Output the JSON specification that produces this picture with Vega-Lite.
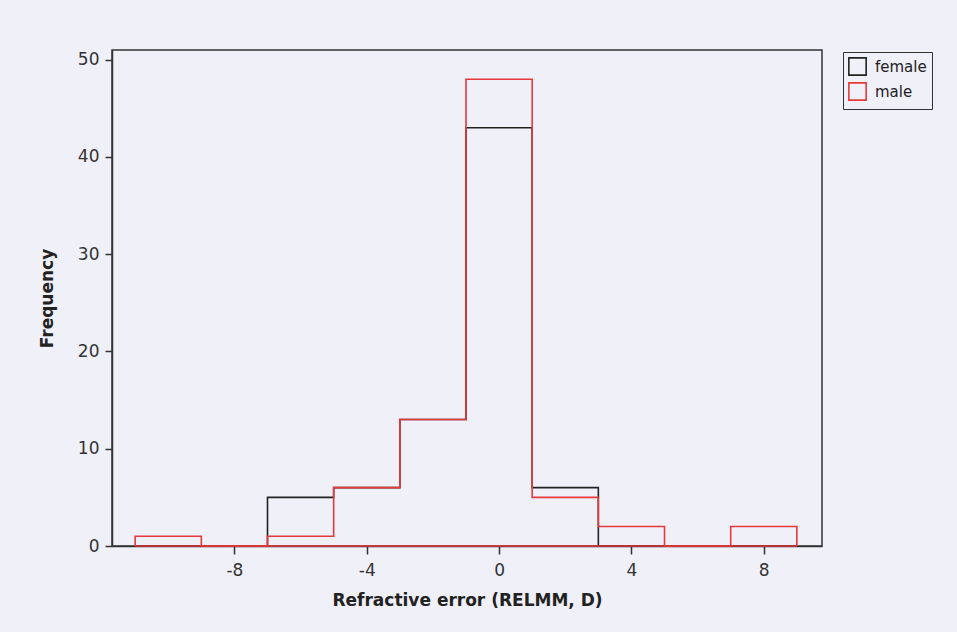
{
  "$schema": "https://vega.github.io/schema/vega-lite/v6.json",
  "autosize": {"type": "none"},
  "width": 710,
  "height": 496,
  "padding": {"left": 112, "top": 50, "right": 135, "bottom": 86},
  "background": "#f0f0f9",
  "config": {
    "font": "DejaVu Sans",
    "view": {"stroke": "#333333", "strokeWidth": 1.5},
    "axis": {
      "grid": false,
      "domainColor": "#333333",
      "domainWidth": 1.5,
      "tickColor": "#333333",
      "tickWidth": 1.5,
      "labelColor": "#333333",
      "labelFont": "DejaVu Sans",
      "labelFontSize": 17,
      "titleColor": "#222222",
      "titleFont": "DejaVu Sans",
      "titleFontSize": 17,
      "titleFontWeight": "bold"
    }
  },
  "data": {
    "values": [
      {"sex": "female", "x": -11, "count": 0, "i": 0},
      {"sex": "female", "x": -9, "count": 0, "i": 1},
      {"sex": "female", "x": -7, "count": 5, "i": 2},
      {"sex": "female", "x": -5, "count": 6, "i": 3},
      {"sex": "female", "x": -3, "count": 13, "i": 4},
      {"sex": "female", "x": -1, "count": 43, "i": 5},
      {"sex": "female", "x": 1, "count": 6, "i": 6},
      {"sex": "female", "x": 3, "count": 0, "i": 7},
      {"sex": "female", "x": 5, "count": 0, "i": 8},
      {"sex": "female", "x": 7, "count": 0, "i": 9},
      {"sex": "female", "x": 9, "count": 0, "i": 10},
      {"sex": "male", "x": -11, "count": 0, "i": 0},
      {"sex": "male", "x": -11, "count": 1, "i": 1},
      {"sex": "male", "x": -9, "count": 0, "i": 2},
      {"sex": "male", "x": -7, "count": 1, "i": 3},
      {"sex": "male", "x": -5, "count": 6, "i": 4},
      {"sex": "male", "x": -3, "count": 13, "i": 5},
      {"sex": "male", "x": -1, "count": 48, "i": 6},
      {"sex": "male", "x": 1, "count": 5, "i": 7},
      {"sex": "male", "x": 3, "count": 2, "i": 8},
      {"sex": "male", "x": 5, "count": 0, "i": 9},
      {"sex": "male", "x": 7, "count": 2, "i": 10},
      {"sex": "male", "x": 9, "count": 0, "i": 11}
    ]
  },
  "layer": [
    {
      "mark": {"type": "line", "interpolate": "step-after", "strokeWidth": 1.6},
      "encoding": {
        "x": {
          "field": "x",
          "type": "quantitative",
          "scale": {"domain": [-11.7, 9.76], "nice": false, "zero": false},
          "axis": {
            "values": [-8, -4, 0, 4, 8],
            "tickSize": 8,
            "labelPadding": 8,
            "labelExpr": "toString(datum.value)",
            "title": "Refractive error (RELMM, D)",
            "titlePadding": 14
          }
        },
        "y": {
          "field": "count",
          "type": "quantitative",
          "scale": {"domain": [0, 51], "nice": false},
          "axis": {
            "values": [0, 10, 20, 30, 40, 50],
            "tickSize": 7,
            "labelPadding": 6,
            "title": "Frequency",
            "titlePadding": 21
          }
        },
        "color": {
          "field": "sex",
          "type": "nominal",
          "scale": {"domain": ["female", "male"], "range": ["#222222", "#e6393a"]},
          "legend": {
            "title": null,
            "orient": "none",
            "legendX": 731,
            "legendY": 2,
            "symbolType": "square",
            "symbolSize": 300,
            "symbolFillColor": "transparent",
            "symbolStrokeWidth": 1.6,
            "labelFont": "DejaVu Sans",
            "labelFontSize": 15,
            "labelColor": "#222222",
            "labelOffset": 8,
            "rowPadding": 0,
            "padding": 5,
            "strokeColor": "#333333"
          }
        },
        "order": {"field": "i", "type": "quantitative"}
      }
    },
    {
      "transform": [{"filter": "datum.sex === 'male'"}],
      "mark": {"type": "rule", "color": "#e6393a", "strokeWidth": 1.6},
      "encoding": {
        "x": {"aggregate": "min", "field": "x", "type": "quantitative"},
        "x2": {"aggregate": "max", "field": "x"},
        "y": {"datum": 0, "type": "quantitative"}
      }
    }
  ]
}
